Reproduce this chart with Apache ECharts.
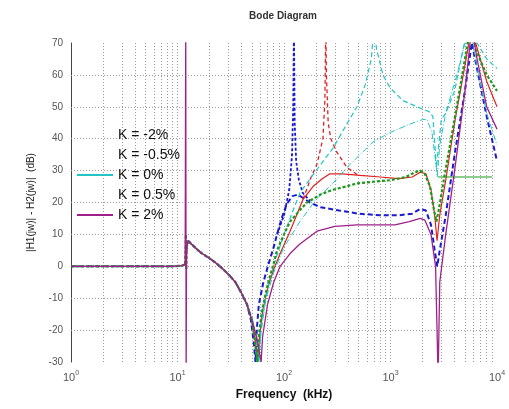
<!DOCTYPE html>
<html>
<head>
<meta charset="utf-8">
<script src="https://cdn.jsdelivr.net/npm/echarts@6.0.0/dist/echarts.min.js"></script>
<style>
html,body{margin:0;padding:0;background:#fff}
#main{width:509px;height:409px}
</style>
</head>
<body>
<div id="main"></div>
<script>
// axis ticks
var xTicks = [1, 10, 100, 1000, 10000];
var yTicks = [-30, -20, -10, 0, 10, 20, 30, 40, 50, 60, 70];
var vGrid = [2, 3, 4, 5, 6, 7, 8, 9, 10, 20, 30, 40, 50, 60, 70, 80, 90, 100,
             200, 300, 400, 500, 600, 700, 800, 900, 1000, 2000, 3000, 4000, 5000, 6000, 7000, 8000, 9000];
var hGrid = [-20, -10, 0, 10, 20, 30, 40, 50, 60];

var legendNames = ['K = -2%', 'K = -0.5%', 'K = 0%', 'K = 0.5%', 'K = 2%'];

// shared low frequency part (kHz / dB)
var lowF  = [1, 3, 6, 9, 11, 11.8, 12.2, 12.6, 13.5, 15, 17, 20, 23, 27, 31, 35, 40];
var lowDb = [0, 0, 0, 0, 0.2, 0.6, 6, 8, 7, 5.5, 4, 2.5, 1, -1, -3, -5, -8.5];

var magSpikeF  = [11.95, 12.05, 12.15];
var magSpikeDb = [75, -35, 2];
var greenSpikeF  = [11.9, 12.0, 12.1];
var greenSpikeDb = [0.5, 10, -1];

// K = -2%
var blueF  = [45, 49, 52, 54, 55.5, 58, 64, 72, 80, 86, 95, 106, 120, 135, 150, 175, 220, 330, 500, 800, 1200, 1600, 1900, 2150, 2400, 2600, 2750, 2900, 3300, 4000, 5000, 5800, 6400, 8000, 10000];
var blueDb = [-12, -17, -24, -30, -20, -12, -5, 1, 6, 10, 15, 19.5, 22, 22.5, 21.5, 20, 18.5, 17.5, 16.5, 16, 16, 16.5, 18, 17.5, 13, 5, 0, 5, 16, 35, 55, 70, 63, 47, 33];
var blueSpikeF  = [86, 100, 112, 119, 122, 124, 126, 130, 138, 150, 175];
var blueSpikeDb = [10, 16, 24, 35, 50, 75, 45, 33, 27, 23, 20.5];

// K = -0.5%
var redF  = [45, 50, 54, 57, 59, 63, 70, 80, 92, 114, 151, 187, 230, 270, 350, 520, 800, 1200, 1600, 1900, 2150, 2400, 2600, 2735, 2900, 3300, 4000, 5000, 5800, 6300, 8000, 10000];
var redDb = [-12, -17, -24, -30, -22, -14, -7, -1, 4, 11, 21, 25, 27.5, 29, 29, 28.5, 28, 27.5, 28, 29.5, 29, 24, 16, 8, 16, 27, 45, 63, 75, 70, 58, 50];
var redSpikeF  = [151, 180, 204, 232, 242, 247, 250, 260, 275, 310, 390, 500];
var redSpikeDb = [21, 28, 32, 40, 52, 75, 60, 45, 40, 36, 31, 28.5];

// K = 0%
var cyanF  = [45, 50, 55, 58, 60, 65, 72, 85, 100, 120, 141, 200, 288, 380, 484, 580, 660, 700, 740, 850, 988, 1300, 1774, 2300, 2500, 2700, 2800, 3000, 3300, 4000, 4800, 5300, 6500, 8000, 10000];
var cyanDb = [-12, -16, -22, -30, -22, -13, -5, 3, 10, 17, 23, 30, 37, 44, 50, 57, 65, 75, 68, 60, 56, 52, 50, 48.5, 47, 31, 31, 46, 48, 55, 68, 75, 70, 65, 62];
var cyan2F  = [45, 50, 55, 58, 61, 68, 80, 100, 141, 200, 288, 390, 500, 685, 1000, 1500, 2000, 2200, 2450, 2650, 2750, 2900, 3300, 4200, 5000, 5600, 6500, 8000, 10000];
var cyan2Db = [-12, -16, -22, -30, -20, -10, -2, 6, 14, 21, 26, 31, 34.5, 39, 42, 44.5, 46, 46, 42, 33, 28, 38, 48, 60, 70, 75, 62, 48, 38];

// K = 0.5%
var greenF  = [45, 50, 53, 56, 58, 62, 70, 80, 86, 100, 114, 140, 164, 220, 288, 380, 484, 685, 1000, 1400, 1700, 1900, 2100, 2350, 2550, 2700, 2850, 3200, 3800, 4500, 5300, 5700, 6300, 8000, 10000];
var greenDb = [-12, -17, -23, -30, -22, -14, -6, 1, 5, 10, 14, 17.5, 20, 22.5, 24, 25, 26, 26.5, 27, 28, 29.5, 30, 29, 25, 18, 14, 18, 28, 42, 56, 70, 75, 68, 60, 55];
var greenRefF  = [2800, 9000];
var greenRefDb = [28, 28];

// K = 2%
var magF  = [45, 50, 55, 58, 61, 63, 70, 80, 92, 114, 141, 204, 300, 484, 800, 1100, 1500, 1900, 2100, 2400, 2650, 2800, 2900, 3300, 4000, 5000, 5800, 6500, 8000, 10000];
var magDb = [-12, -17, -22, -26, -30, -22, -12, -5, 0, 4, 7, 11, 12.5, 13, 13, 13, 14, 15, 14.5, 10, 0, -35, -5, 10, 30, 55, 75, 65, 50, 43];

function pairs(f, d) {
    var out = [];
    for (var i = 0; i < f.length; i++) out.push([f[i], d[i]]);
    return out;
}
function buildCurve(parts) {
    var out = [];
    for (var i = 0; i < parts.length; i++) out = out.concat(pairs(parts[i][0], parts[i][1]));
    out.sort(function (a, b) { return a[0] - b[0]; });
    return out;
}

var colBlue = '#1a1ad0', colRed = '#e02020', colCyan = '#22c4c4', colGreen = '#1a9a1a', colMag = '#a0208a';

function curve(name, color, data, width, type) {
    return {
        type: 'line', name: name, color: color, data: data,
        showSymbol: false, symbol: 'none', animation: false, z: 3,
        lineStyle: {width: width, type: type, color: color}
    };
}

var chart = echarts.init(document.getElementById('main'));
var font = 'Liberation Sans, Arial, sans-serif';

var series = [
    {
        type: 'line', name: 'grid', data: [], silent: true, animation: false,
        markLine: {
            silent: true, symbol: ['none', 'none'], label: {show: false}, z: 1, animation: false,
            lineStyle: {color: '#9a9a9a', width: 1, type: [1, 2]},
            data: vGrid.map(function (v) { return {xAxis: v}; })
                .concat(hGrid.map(function (v) { return {yAxis: v}; }))
        }
    },
    curve(legendNames[0], colBlue, buildCurve([[lowF, lowDb], [blueF, blueDb]]), 2, [5, 3]),
    curve(legendNames[0], colBlue, pairs(blueSpikeF, blueSpikeDb), 1.8, [3, 2]),
    curve(legendNames[1], colRed, buildCurve([[lowF, lowDb], [redF, redDb]]), 1.2, 'solid'),
    curve(legendNames[1], colRed, pairs(redSpikeF, redSpikeDb), 1.3, [4, 3]),
    curve(legendNames[2], colCyan, buildCurve([[lowF, lowDb], [cyanF, cyanDb]]), 1.2, [5, 3]),
    curve(legendNames[2], colCyan, buildCurve([[lowF, lowDb], [cyan2F, cyan2Db]]), 1, [6, 2, 1, 2]),
    curve(legendNames[3], colGreen, buildCurve([[lowF, lowDb], [greenSpikeF, greenSpikeDb], [greenF, greenDb]]), 2.2, [3, 2]),
    curve(legendNames[3], colGreen, pairs(greenRefF, greenRefDb), 1.2, 'solid'),
    curve(legendNames[4], colMag, buildCurve([[lowF, lowDb], [magSpikeF, magSpikeDb], [magF, magDb]]), 1.3, 'solid')
];

chart.setOption({
    animation: false,
    backgroundColor: '#fff',
    textStyle: {fontFamily: font},
    title: {
        text: 'Bode Diagram', left: 278, top: 6, textAlign: 'center',
        textStyle: {fontSize: 10, fontWeight: 'bold', color: '#333', fontFamily: font}
    },
    legend: {
        orient: 'vertical', left: 72, top: 122, itemWidth: 36, itemHeight: 2, itemGap: 4,
        textStyle: {fontSize: 14, color: '#111', lineHeight: 16, fontFamily: font},
        data: [
            {name: legendNames[0], icon: 'none'},
            {name: legendNames[1], icon: 'none'},
            {name: legendNames[2], icon: 'rect'},
            {name: legendNames[3], icon: 'none'},
            {name: legendNames[4], icon: 'rect'}
        ]
    },
    grid: {left: 71, right: 12, top: 43, bottom: 47},
    xAxis: {
        type: 'log', logBase: 10, min: xTicks[0], max: xTicks[xTicks.length - 1],
        name: 'Frequency  (kHz)', nameLocation: 'middle', nameGap: 27,
        nameTextStyle: {fontSize: 12, fontWeight: 'bold', color: '#111', fontFamily: font},
        axisLine: {show: false}, axisTick: {show: false}, splitLine: {show: false},
        axisLabel: {
            margin: 8, color: '#555',
            formatter: function (v) {
                var e = Math.round(Math.log(v) / Math.LN10);
                return '{b|10}{s|' + e + '}';
            },
            rich: {
                b: {fontSize: 11, color: '#555', fontFamily: font},
                s: {fontSize: 7, color: '#555', padding: [0, 0, 8, 0], fontFamily: font}
            }
        }
    },
    yAxis: {
        type: 'value', min: yTicks[0], max: yTicks[yTicks.length - 1], interval: 10,
        name: '|H1(jw)| - H2(jw)|  (dB)', nameLocation: 'middle', nameGap: 35, nameRotate: 90,
        nameTextStyle: {fontSize: 10, color: '#222', fontFamily: font},
        axisLine: {show: true, lineStyle: {color: '#444', width: 1}},
        axisTick: {show: false}, splitLine: {show: false},
        axisLabel: {fontSize: 10, color: '#555', margin: 8, fontFamily: font}
    },
    series: series
});
</script>
</body>
</html>
